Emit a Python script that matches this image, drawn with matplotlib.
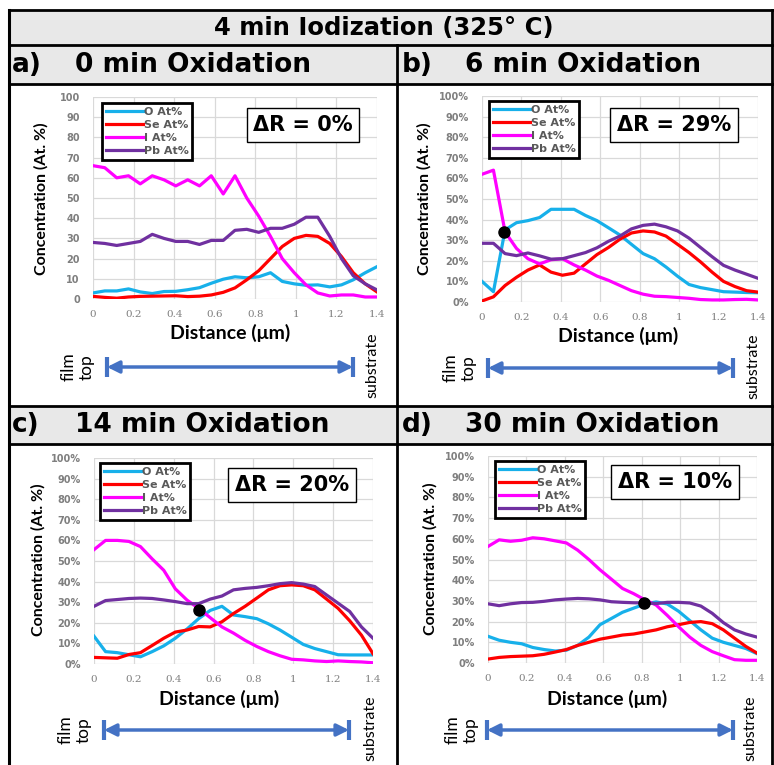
import matplotlib
matplotlib.use("Agg")
import matplotlib.pyplot as plt
from matplotlib.patches import Rectangle

# sputter depth (um), shared by all four profiles
distance = [0.0, 0.058, 0.117, 0.175, 0.233, 0.292, 0.35, 0.408, 0.467, 0.525,
            0.583, 0.642, 0.7, 0.758, 0.817, 0.875, 0.933, 0.992, 1.05, 1.108,
            1.167, 1.225, 1.283, 1.342, 1.4]

# a) 0 min oxidation
o_0 = [3, 4, 4, 5, 3.5, 2.7, 3.7, 3.8, 4.6, 5.6, 7.8, 9.8, 11, 10.5, 11, 13,
       8.7, 7.5, 6.8, 7, 6, 7, 9.5, 13, 16]
se_0 = [1.3, 0.8, 0.4, 1, 1.3, 1.4, 1.5, 1.6, 1.2, 1.4, 2, 3.3, 5.5, 9.5, 14,
        20, 26, 30, 31.5, 31, 27.5, 21, 13, 7.5, 3.5]
i_0 = [66, 65, 60, 61, 57, 61, 59, 56, 59, 56, 61, 52, 61, 50, 41, 31, 20, 13,
       7, 3, 1.5, 2, 2, 1, 1]
pb_0 = [28, 27.5, 26.5, 27.5, 28.5, 32, 30, 28.5, 28.5, 27, 29, 29, 34, 34.5,
        33, 35, 35, 37, 40.5, 40.5, 31, 20, 11.5, 7.5, 4.5]

# b) 6 min oxidation
o_6 = [10, 5, 35, 38.5, 39.5, 41, 45, 45, 45, 42, 39.5, 36, 32.5, 28, 23.5, 21,
       17, 12.5, 8.5, 7, 6, 5, 4.8, 4.6, 4.5]
se_6 = [0.5, 2.5, 8, 12, 15.5, 18, 14.5, 13, 14, 18.5, 23, 26.5, 30.5, 33.5,
        34.5, 34, 32, 28, 24, 19.5, 14.5, 10, 7.5, 5.5, 4.8]
i_6 = [62, 64, 34, 26, 21, 18.5, 20.5, 21, 18, 15.5, 12.6, 10.5, 8, 5.5, 3.8,
       2.8, 2.6, 2.2, 1.8, 1.2, 1, 1, 1.2, 1.3, 1]
pb_6 = [28.5, 28.5, 23.5, 22.5, 23.8, 22.4, 20.8, 21, 22.5, 24, 26.3, 29.5, 32,
        35.5, 37.2, 37.8, 36.5, 34.5, 31, 26.5, 22, 17.8, 15.5, 13.5, 11.5]

# c) 14 min oxidation
o_14 = [13.5, 6, 5.5, 4.5, 3.5, 6, 8.8, 12.5, 17, 22, 26, 28, 23.8, 23, 22,
        19.5, 16.5, 13, 9.5, 7.5, 6, 4.5, 4.4, 4.4, 4.4]
se_14 = [3.2, 3, 2.8, 4.6, 5.5, 9, 12.5, 15.5, 16.5, 18.2, 18, 20.5, 24.5, 28,
         32, 36, 38, 38.4, 38, 36, 31.5, 27, 21, 14, 5]
i_14 = [55.5, 60, 60, 59.5, 57, 51, 45.5, 36.5, 31, 27, 22.5, 18, 15, 11.5, 8.5,
        6, 4, 2.3, 2, 1.5, 1.2, 1.5, 1.2, 1, 0.6]
pb_14 = [28, 30.8, 31.3, 31.8, 32, 31.8, 31.1, 30.3, 29.3, 29.3, 31.5, 33, 36,
         36.7, 37.2, 38, 39, 39.5, 38.8, 37.6, 33.5, 29.5, 25.5, 18, 12.5]

# d) 30 min oxidation
o_30 = [12.9, 11, 10, 9.3, 7.5, 6.5, 5.8, 6.2, 8.5, 12.5, 18.5, 21.5, 24.5,
        26.5, 28.5, 29.5, 28.5, 25, 20.5, 16, 12, 10, 8.5, 7, 4.5]
se_30 = [1.9, 2.7, 3.1, 3.3, 3.5, 4.2, 5.3, 6.5, 8.5, 10, 11.5, 12.5, 13.5, 14,
         15, 16, 17.5, 18.5, 19.6, 20, 19, 16, 12, 8, 4.8]
i_30 = [56.3, 59.5, 58.8, 59.3, 60.5, 60, 59, 58, 54.5, 50, 45, 40.5, 36, 33.5,
        30.5, 28, 23, 17.5, 12.5, 8.5, 5.5, 3.5, 1.6, 1.3, 1.3]
pb_30 = [28.6, 27.7, 28.6, 29.2, 29.3, 29.8, 30.5, 30.9, 31.2, 31, 30.5, 29.6,
         29.3, 29.1, 29, 28.7, 29.3, 29.3, 29, 27.5, 24, 19.5, 16, 14, 12.5]

# marked crossing points (x um, y %), None for panel a
cross_x = [None, 0.112, 0.526, 0.81]
cross_y = [None, 34, 26, 29]

labels = ["a)", "b)", "c)", "d)"]
titles = ["0 min Oxidation", "6 min Oxidation", "14 min Oxidation", "30 min Oxidation"]
delta_r = ["\u0394R = 0%", "\u0394R = 29%", "\u0394R = 20%", "\u0394R = 10%"]
series_names = ["O At%", "Se At%", "I At%", "Pb At%"]
series_colors = ["#17b0ea", "#ff0000", "#ff00ff", "#7030a0"]
profiles = [(o_0, se_0, i_0, pb_0), (o_6, se_6, i_6, pb_6),
            (o_14, se_14, i_14, pb_14), (o_30, se_30, i_30, pb_30)]

W, H = 774, 765
BLUE = "#4472c4"
GREY = "#7f7f7f"

# pixel layout of each panel
plot_box = [(93, 377, 97, 299), (482, 758, 96, 302),
            (94, 373, 458, 664), (488, 757, 456, 663)]
legend_tl = [(102, 103), (489, 101), (100, 463), (495, 461)]
dr_center = [(303, 125), (674, 125), (292, 485), (675, 482)]
ylab_pos = [(41, 199), (424, 199), (38, 560), (430, 559)]
xlab_pos = [(230, 333), (618, 336), (219, 699), (607, 699)]
arrow_pos = [(107, 353, 367), (488, 733, 368), (104, 349, 730), (487, 733, 730)]
filmtop_x = [79, 461, 76, 463]
subst_x = [372, 753, 370, 750]
head_x = [12, 402, 12, 402]
head_y = [65, 65, 425, 425]

fig = plt.figure(figsize=(W / 100, H / 100), dpi=100)
bg = fig.add_axes([0, 0, 1, 1])
bg.set_xlim(0, W); bg.set_ylim(H, 0); bg.axis("off")

for y0, y1 in [(10, 45), (45, 84), (406, 444)]:
    bg.add_patch(Rectangle((9, y0), W - 9, y1 - y0, fc="#e8e8e8", ec="none"))
for y in [10, 45, 84, 406, 444]:
    bg.plot([9, W], [y, y], color="black", lw=2)
bg.plot([9, 9], [10, H], color="black", lw=2.2)
bg.plot([772, 772], [10, H], color="black", lw=2)
bg.plot([397, 397], [45, H], color="black", lw=2)

bg.text(384, 28, "4 min Iodization (325\u00b0 C)", ha="center", va="center",
        fontsize=17.5, fontweight="bold", family="DejaVu Sans")

for p in range(4):
    bg.text(head_x[p], head_y[p], labels[p], ha="left", va="center",
            fontsize=19, fontweight="bold")
    bg.text(head_x[p] + 63, head_y[p], titles[p], ha="left", va="center",
            fontsize=19, fontweight="bold")

    x0, x1, yt, yb = plot_box[p]
    ax = fig.add_axes([x0 / W, 1 - yb / H, (x1 - x0) / W, (yb - yt) / H])
    ax.set_zorder(2)
    for s in range(4):
        ax.plot(distance, profiles[p][s], color=series_colors[s], lw=2.3,
                label=series_names[s], solid_joinstyle="round")
    if cross_x[p] is not None:
        ax.plot([cross_x[p]], [cross_y[p]], "o", color="black", ms=8, zorder=5)

    ax.set_xlim(0, 1.4); ax.set_ylim(0, 100)
    ax.set_xticks([0, 0.2, 0.4, 0.6, 0.8, 1.0, 1.2, 1.4])
    ax.set_xticklabels(["0", "0.2", "0.4", "0.6", "0.8", "1", "1.2", "1.4"],
                       family="DejaVu Serif", fontsize=7.5, color=GREY)
    yt_vals = list(range(0, 101, 10))
    ax.set_yticks(yt_vals)
    if p == 0:
        ylabels = [str(v) for v in yt_vals]
    else:
        ylabels = [f"{v}%" for v in yt_vals]
    ax.set_yticklabels(ylabels, fontsize=7, fontweight="bold", color=GREY)
    ax.tick_params(axis="both", length=0)
    ax.tick_params(axis="y", pad=9.5)
    ax.tick_params(axis="x", pad=8)
    ax.grid(True, color="#d9d9d9", lw=0.9)
    ax.set_axisbelow(True)
    for sp in ax.spines.values():
        sp.set_visible(False)

    leg = ax.legend(loc="upper left", bbox_to_anchor=legend_tl[p],
                    bbox_transform=bg.transData, borderaxespad=0,
                    prop={"weight": "bold", "size": 8}, labelcolor="#595959",
                    handlelength=3.3, handletextpad=0.1, labelspacing=0.28,
                    borderpad=0.35, fancybox=False, framealpha=1)
    leg.get_frame().set_edgecolor("black")
    leg.get_frame().set_linewidth(2)

    ax.text(dr_center[p][0], dr_center[p][1], delta_r[p], transform=bg.transData,
            ha="center", va="center", fontsize=15, fontweight="bold", zorder=6,
            bbox=dict(boxstyle="square,pad=0.32", fc="white", ec="black", lw=1))

    bg.text(ylab_pos[p][0], ylab_pos[p][1], "Concentration (At. %)", rotation=90,
            ha="center", va="center", fontsize=11.5, fontweight="bold",
            family=["Lato", "DejaVu Sans"])
    bg.text(xlab_pos[p][0], xlab_pos[p][1], "Distance (\u03bcm)", ha="center",
            va="center", fontsize=14, fontweight="bold",
            family=["Lato", "DejaVu Sans"])

    ax0, ax1, ay = arrow_pos[p]
    bg.annotate("", xy=(ax1, ay), xytext=(ax0, ay),
                arrowprops=dict(arrowstyle="<|-|>", color=BLUE, lw=2.5,
                                mutation_scale=18, shrinkA=0, shrinkB=0))
    bg.plot([ax0, ax0], [ay - 10, ay + 10], color=BLUE, lw=3, solid_capstyle="butt")
    bg.plot([ax1, ax1], [ay - 10, ay + 10], color=BLUE, lw=3, solid_capstyle="butt")
    bg.text(filmtop_x[p] - 1, ay, "film\ntop", rotation=90, ha="center",
            va="center", fontsize=12.5, linespacing=1.15,
            family=["Lato", "DejaVu Sans"])
    bg.text(subst_x[p], ay - 2, "substrate", rotation=90, ha="center",
            va="center", fontsize=11.5, family=["Lato", "DejaVu Sans"])

fig.savefig("out.png", dpi=100)
